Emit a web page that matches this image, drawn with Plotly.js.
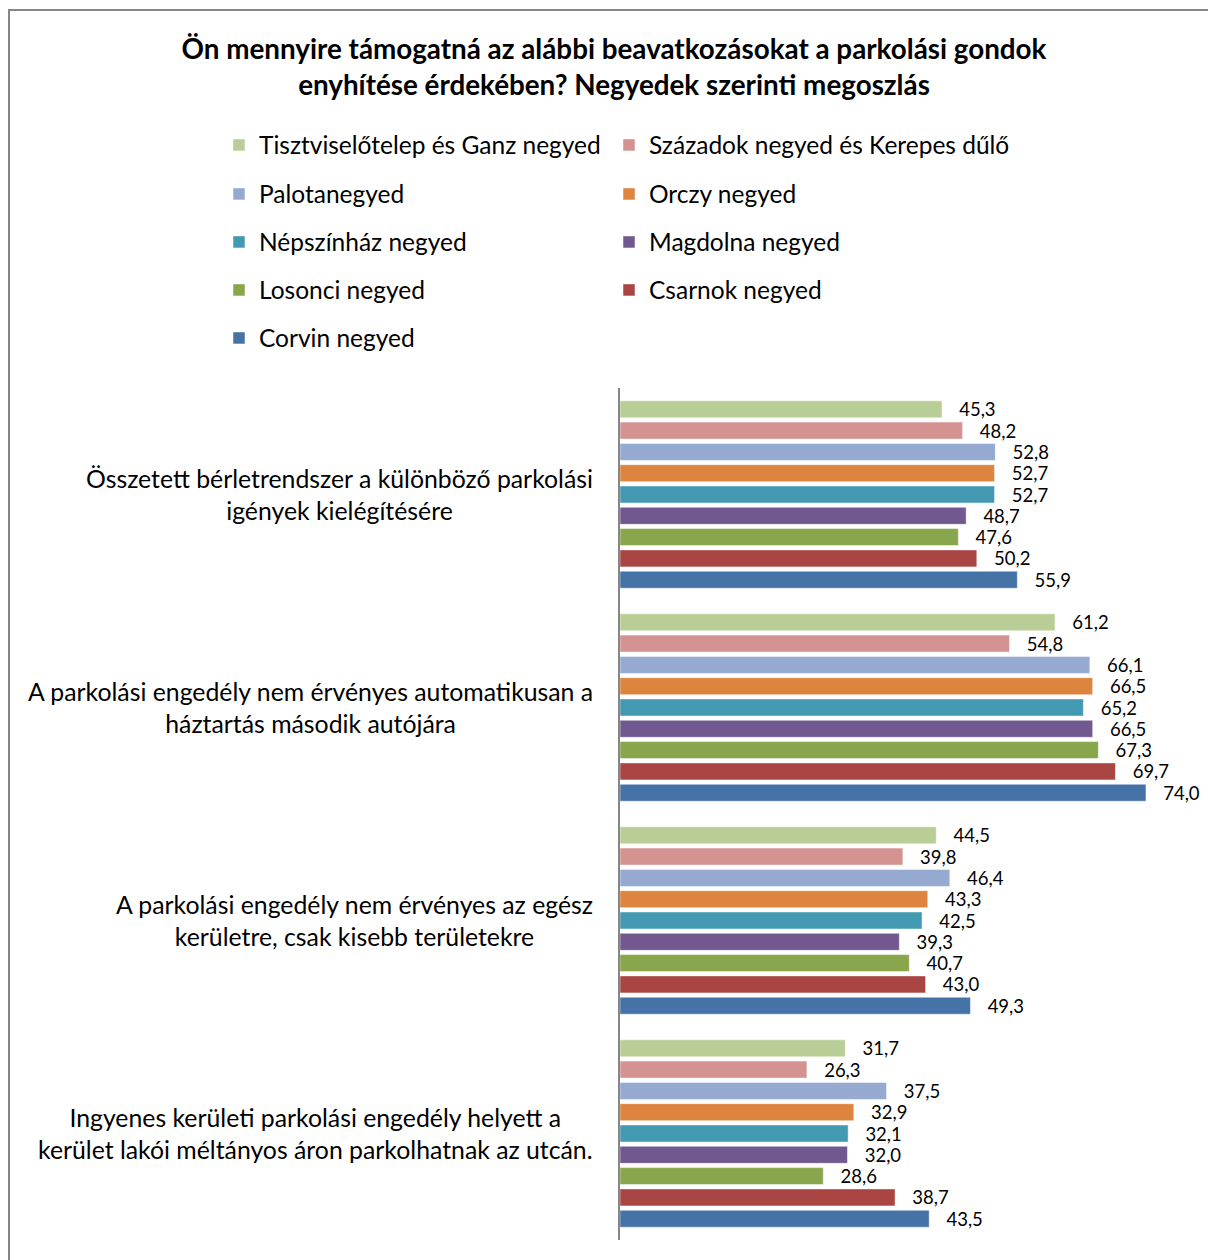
<!DOCTYPE html>
<html>
<head>
<meta charset="utf-8">
<script src="https://cdn.plot.ly/plotly-3.0.1.min.js"></script>
<style>
  html, body { margin: 0; padding: 0; background: #fff; }
  #wrap { position: relative; width: 1208px; height: 1260px; overflow: hidden; }
  #chart { position: absolute; left: 0; top: 0; width: 1208px; height: 1260px; }
  #frame { position: absolute; left: 8px; top: 9px; width: 1400px; height: 1400px;
           border-left: 2px solid #868686; border-top: 2px solid #868686; pointer-events: none; }
</style>
</head>
<body>
<div id="wrap">
  <div id="chart"></div>
  <div id="frame"></div>
</div>
<script>
const titleText = 'Ön mennyire támogatná az alábbi beavatkozásokat a parkolási gondok<br>enyhítése érdekében? Negyedek szerinti megoszlás';

const categories = [
  'Összetett bérletrendszer a különböző parkolási igények kielégítésére',
  'A parkolási engedély nem érvényes automatikusan a háztartás második autójára',
  'A parkolási engedély nem érvényes az egész kerületre, csak kisebb területekre',
  'Ingyenes kerületi parkolási engedély helyett a kerület lakói méltányos áron parkolhatnak az utcán.'
];
const categoryLabels = [
  'Összetett bérletrendszer a különböző parkolási<br>igények kielégítésére',
  'A parkolási engedély nem érvényes automatikusan a<br>háztartás második autójára',
  'A parkolási engedély nem érvényes az egész<br>kerületre, csak kisebb területekre',
  'Ingyenes kerületi parkolási engedély helyett a<br>kerület lakói méltányos áron parkolhatnak az utcán.'
];

const seriesNames = [
  'Tisztviselőtelep és Ganz negyed',
  'Századok negyed és Kerepes dűlő',
  'Palotanegyed',
  'Orczy negyed',
  'Népszínház negyed',
  'Magdolna negyed',
  'Losonci negyed',
  'Csarnok negyed',
  'Corvin negyed'
];

const tisztviselotelep = [45.3, 61.2, 44.5, 31.7];
const szazados        = [48.2, 54.8, 39.8, 26.3];
const palotanegyed    = [52.8, 66.1, 46.4, 37.5];
const orczy           = [52.7, 66.5, 43.3, 32.9];
const nepszinhaz      = [52.7, 65.2, 42.5, 32.1];
const magdolna        = [48.7, 66.5, 39.3, 32.0];
const losonci         = [47.6, 67.3, 40.7, 28.6];
const csarnok         = [50.2, 69.7, 43.0, 38.7];
const corvin          = [55.9, 74.0, 49.3, 43.5];

const seriesValues = [tisztviselotelep, szazados, palotanegyed, orczy, nepszinhaz, magdolna, losonci, csarnok, corvin];
const seriesColors = ['#B9CE96', '#D49291', '#95A9D1', '#DD843F', '#4399B1', '#71588F', '#8AA64D', '#A94643', '#4573A7'];

const FONT = 'Lato, "Open Sans", sans-serif';
const W = 1208, H = 1260;

const fmt = v => '\u00a0\u00a0\u00a0' + v.toFixed(1).replace('.', ',');

const traces = seriesNames.map((name, i) => ({
  type: 'bar',
  orientation: 'h',
  name: name,
  y: categories,
  x: seriesValues[i],
  text: seriesValues[i].map(fmt),
  textposition: 'outside',
  textangle: 0,
  constraintext: 'none',
  cliponaxis: false,
  textfont: { family: FONT, size: 18.5, color: '#000' },
  marker: { color: seriesColors[i], line: { color: '#fff', width: 0.5 } },
  hoverinfo: 'x+name',
  legend: i === 0 ? 'legend' : 'legend' + (i + 1)
}));

const layout = {
  width: W, height: H,
  paper_bgcolor: '#fff', plot_bgcolor: '#fff',
  font: { family: FONT, color: '#000' },
  margin: { l: 620, r: 8, t: 388, b: 20, pad: 0, autoexpand: false },
  barmode: 'group',
  bargap: 0.1,
  bargroupgap: 0.2,
  separators: ', ',
  title: {
    text: titleText,
    font: { family: FONT, size: 27.8, color: '#000', weight: 'bold' },
    x: 614 / W, xanchor: 'center', xref: 'container',
    y: 1 - 59 / H, yanchor: 'middle', yref: 'container'
  },
  xaxis: {
    range: [0, 580 / 7.108],
    showgrid: false, zeroline: false, showticklabels: false, showline: false, ticks: ''
  },
  yaxis: {
    type: 'category',
    autorange: 'reversed',
    showgrid: false, zeroline: false, showticklabels: false, ticks: '',
    showline: true, linecolor: '#868686', linewidth: 2
  },
  annotations: categories.map((c, i) => ({
    xref: 'paper', yref: 'y',
    x: 0, y: c,
    xanchor: 'right', yanchor: 'middle',
    xshift: -25,
    align: 'center',
    showarrow: false,
    text: categoryLabels[i],
    font: { family: FONT, size: 24.8, color: '#000' }
  })),
  showlegend: true
};

const rowY = [145, 194, 242, 290, 338];
const colX = [234, 624];
seriesNames.forEach((n, i) => {
  const key = i === 0 ? 'legend' : 'legend' + (i + 1);
  const row = Math.floor(i / 2), col = i % 2;
  layout[key] = {
    xref: 'container', yref: 'container',
    x: (colX[col] - 15) / W, xanchor: 'left',
    y: 1 - rowY[row] / H, yanchor: 'middle',
    orientation: 'v',
    bgcolor: 'rgba(0,0,0,0)', borderwidth: 0,
    font: { family: FONT, size: 24.5, color: '#000' },
    itemclick: false, itemdoubleclick: false
  };
});

Plotly.newPlot('chart', traces, layout, { displayModeBar: false, staticPlot: true });
</script>
</body>
</html>
